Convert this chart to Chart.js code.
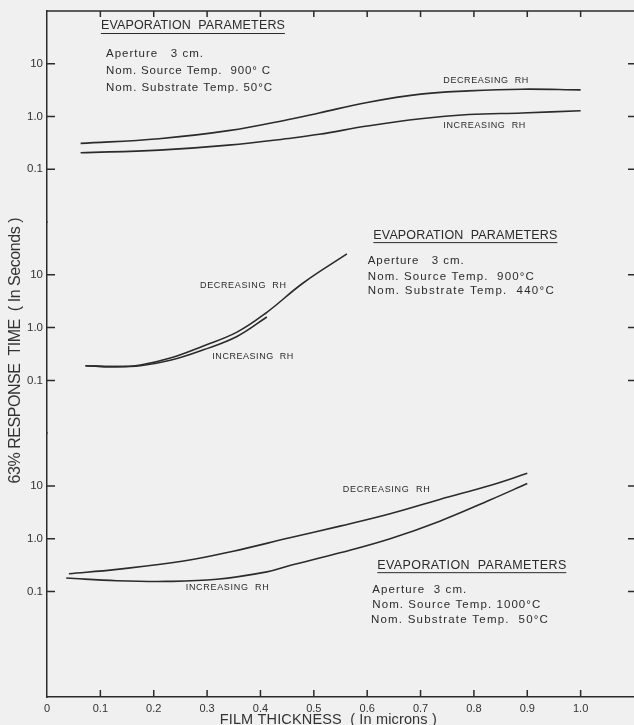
<!DOCTYPE html>
<html>
<head>
<meta charset="utf-8">
<script src="https://cdn.jsdelivr.net/npm/chart.js@4/dist/chart.umd.min.js"></script>
<style>
  html, body { margin: 0; padding: 0; background: #f0f0f0; }
  #wrap { width: 634px; height: 725px; }
  canvas { display: block; }
</style>
</head>
<body>
<div id="wrap"><canvas id="chart" width="634" height="725"></canvas></div>
<script>
// Film thickness axis (microns)
const thicknessTicks = [0, 0.1, 0.2, 0.3, 0.4, 0.5, 0.6, 0.7, 0.8, 0.9, 1.0];
const thicknessLabels = ['0', '0.1', '0.2', '0.3', '0.4', '0.5', '0.6', '0.7', '0.8', '0.9', '1.0'];

// Response time axes (seconds, log) – same three ticks in every panel
const timeTicks = [0.1, 1, 10];
const timeLabels = ['0.1', '1.0', '10'];

// Run A: source 900 °C, substrate 50 °C
const runADecX = [0.063, 0.21, 0.34, 0.46, 0.51, 0.60, 0.70, 0.79, 0.89, 1.0];
const runADecY = [0.31, 0.38, 0.54, 0.91, 1.17, 1.85, 2.66, 3.06, 3.30, 3.2];
const runAIncX = [0.063, 0.21, 0.34, 0.46, 0.51, 0.60, 0.70, 0.79, 0.89, 1.0];
const runAIncY = [0.206, 0.231, 0.287, 0.393, 0.46, 0.66, 0.91, 1.09, 1.17, 1.29];

// Run B: source 900 °C, substrate 440 °C
const runBDecX = [0.072, 0.125, 0.175, 0.231, 0.293, 0.356, 0.412, 0.48, 0.562];
const runBDecY = [0.19, 0.182, 0.196, 0.265, 0.45, 0.82, 1.95, 7.0, 24.9];
const runBIncX = [0.072, 0.125, 0.175, 0.231, 0.293, 0.356, 0.412];
const runBIncY = [0.19, 0.182, 0.19, 0.24, 0.38, 0.68, 1.59];

// Run C: source 1000 °C, substrate 50 °C
const runCDecX = [0.041, 0.131, 0.256, 0.349, 0.455, 0.549, 0.643, 0.736, 0.830, 0.90];
const runCDecY = [0.217, 0.262, 0.377, 0.58, 1.04, 1.73, 2.97, 5.55, 10.2, 17.3];
const runCIncX = [0.036, 0.131, 0.225, 0.318, 0.412, 0.455, 0.549, 0.643, 0.736, 0.830, 0.90];
const runCIncY = [0.18, 0.16, 0.155, 0.17, 0.235, 0.31, 0.54, 1.0, 2.15, 5.4, 11.1];

const FONT = '"Liberation Sans", Arial, sans-serif';
const INK = '#2b2b2b';

const pts = (xs, ys) => xs.map((x, i) => ({ x, y: ys[i] }));

function curve(xs, ys, axis) {
  return {
    data: pts(xs, ys),
    yAxisID: axis,
    borderColor: INK,
    borderWidth: 1.6,
    pointRadius: 0,
    fill: false,
    tension: 0.4
  };
}

function timeAxis(min, weight) {
  return {
    type: 'logarithmic',
    position: 'left',
    stack: 'panels',
    stackWeight: weight,
    min: min,
    max: 100,
    afterBuildTicks: s => { s.ticks = timeTicks.map(v => ({ value: v })); },
    afterFit: s => { s.width = 47; },
    ticks: {
      autoSkip: false,
      padding: 4,
      color: '#333',
      font: { family: FONT, size: 11.5 },
      callback: (v, i) => timeLabels[i]
    },
    grid: { display: false, drawTicks: false },
    border: { display: true, color: INK, width: 1.5 }
  };
}

// Text notes placed in data coordinates of each panel (left edge, vertical centre)
const notes = [
  { axis: 'y1', x: 0.101, y: 51.9, text: 'EVAPORATION  PARAMETERS', size: 12.5, width: 184, underline: true },
  { axis: 'y1', x: 0.1106, y: 15.3, text: 'Aperture   3 cm.', size: 11.5, width: 97 },
  { axis: 'y1', x: 0.1106, y: 7.28, text: 'Nom. Source Temp.  900° C', size: 11.5, width: 164 },
  { axis: 'y1', x: 0.1106, y: 3.57, text: 'Nom. Substrate Temp. 50°C', size: 11.5, width: 166 },
  { axis: 'y1', x: 0.7427, y: 4.77, text: 'DECREASING  RH', size: 9, width: 85 },
  { axis: 'y1', x: 0.7427, y: 0.69, text: 'INCREASING  RH', size: 9, width: 82 },

  { axis: 'y2', x: 0.2867, y: 6.39, text: 'DECREASING  RH', size: 9, width: 86 },
  { axis: 'y2', x: 0.3098, y: 0.288, text: 'INCREASING  RH', size: 9, width: 81 },
  { axis: 'y2', x: 0.6115, y: 56.6, text: 'EVAPORATION  PARAMETERS', size: 12.5, width: 184, underline: true },
  { axis: 'y2', x: 0.601, y: 18.2, text: 'Aperture   3 cm.', size: 11.5, width: 96 },
  { axis: 'y2', x: 0.601, y: 9.34, text: 'Nom. Source Temp.  900°C', size: 11.5, width: 166 },
  { axis: 'y2', x: 0.601, y: 4.92, text: 'Nom. Substrate Temp.  440°C', size: 11.5, width: 186 },

  { axis: 'y3', x: 0.5542, y: 8.67, text: 'DECREASING  RH', size: 9, width: 87 },
  { axis: 'y3', x: 0.2599, y: 0.1205, text: 'INCREASING  RH', size: 9, width: 83 },
  { axis: 'y3', x: 0.619, y: 0.315, text: 'EVAPORATION  PARAMETERS', size: 12.5, width: 189, underline: true },
  { axis: 'y3', x: 0.6096, y: 0.1057, text: 'Aperture  3 cm.', size: 11.5, width: 94 },
  { axis: 'y3', x: 0.6096, y: 0.0549, text: 'Nom. Source Temp. 1000°C', size: 11.5, width: 168 },
  { axis: 'y3', x: 0.607, y: 0.0286, text: 'Nom. Substrate Temp.  50°C', size: 11.5, width: 177 }
];

// Draw a line of text stretched by letter spacing to a given width
function fitText(ctx, text, x, y, size, width, align) {
  ctx.font = size + 'px ' + FONT;
  ctx.textBaseline = 'middle';
  ctx.textAlign = 'left';
  const hasLS = 'letterSpacing' in ctx;
  if (hasLS) ctx.letterSpacing = '0px';
  const w = ctx.measureText(text).width;
  const n = Array.from(text).length;
  const x0 = align === 'center' ? x - width / 2 : x;
  if (hasLS && n > 1) {
    ctx.letterSpacing = ((width - w) / (n - 1)) + 'px';
    ctx.fillText(text, x0, y);
    ctx.letterSpacing = '0px';
  } else {
    ctx.save();
    ctx.translate(x0, y);
    ctx.scale(width / w, 1);
    ctx.fillText(text, 0, 0);
    ctx.restore();
  }
}

const frame = {
  id: 'frame',
  afterDraw(chart) {
    const ctx = chart.ctx;
    const { left, right, top, bottom } = chart.chartArea;
    const xs = chart.scales.x;
    ctx.save();
    ctx.strokeStyle = INK;
    ctx.lineWidth = 1.5;
    ctx.beginPath();
    // top frame line
    ctx.moveTo(left, top);
    ctx.lineTo(right, top);
    // thickness ticks, pointing inward from bottom and top
    thicknessTicks.forEach(v => {
      if (v === 0) return;
      const px = xs.getPixelForValue(v);
      ctx.moveTo(px, bottom);
      ctx.lineTo(px, bottom - 7);
      ctx.moveTo(px, top);
      ctx.lineTo(px, top + 6);
    });
    // response-time ticks on both sides of every panel
    ['y1', 'y2', 'y3'].forEach(id => {
      const s = chart.scales[id];
      timeTicks.forEach(v => {
        const py = s.getPixelForValue(v);
        ctx.moveTo(left, py);
        ctx.lineTo(left + 8, py);
        ctx.moveTo(right - 6, py);
        ctx.lineTo(right, py);
      });
    });
    ctx.stroke();

    // notes
    ctx.fillStyle = INK;
    ctx.lineWidth = 1;
    notes.forEach(n => {
      const px = xs.getPixelForValue(n.x);
      const py = chart.scales[n.axis].getPixelForValue(n.y);
      fitText(ctx, n.text, px, py, n.size, n.width, 'left');
      if (n.underline) {
        ctx.beginPath();
        ctx.moveTo(px, py + 7.5);
        ctx.lineTo(px + n.width, py + 7.5);
        ctx.stroke();
      }
    });

    // axis titles
    ctx.fillStyle = '#333';
    fitText(ctx, 'FILM THICKNESS  ( In microns )', xs.getPixelForValue(0.527), 719.5, 14.5, 217, 'center');
    ctx.save();
    ctx.translate(15.5, 350.5);
    ctx.rotate(-Math.PI / 2);
    fitText(ctx, '63% RESPONSE  TIME  ( In Seconds )', 0, 0, 16, 266, 'center');
    ctx.restore();
    ctx.restore();
  }
};

new Chart(document.getElementById('chart'), {
  type: 'line',
  data: {
    datasets: [
      curve(runADecX, runADecY, 'y1'),
      curve(runAIncX, runAIncY, 'y1'),
      curve(runBDecX, runBDecY, 'y2'),
      curve(runBIncX, runBIncY, 'y2'),
      curve(runCDecX, runCDecY, 'y3'),
      curve(runCIncX, runCIncY, 'y3')
    ]
  },
  options: {
    responsive: false,
    devicePixelRatio: 1,
    animation: false,
    events: [],
    layout: { padding: { top: 11, right: 0, bottom: 0, left: 0 } },
    plugins: { legend: { display: false }, tooltip: { enabled: false } },
    scales: {
      x: {
        type: 'linear',
        position: 'bottom',
        min: 0,
        max: 1.1,
        afterBuildTicks: s => { s.ticks = thicknessTicks.map(v => ({ value: v })); },
        afterFit: s => { s.height = 28; },
        ticks: {
          autoSkip: false,
          maxRotation: 0,
          padding: 5,
          color: '#333',
          font: { family: FONT, size: 11 },
          callback: (v, i) => thicknessLabels[i]
        },
        grid: { display: false, drawTicks: false },
        border: { display: true, color: INK, width: 1.5 }
      },
      y3: timeAxis(0.001, 5),
      y2: timeAxis(0.01, 4),
      y1: timeAxis(0.01, 4)
    }
  },
  plugins: [frame]
});
</script>
</body>
</html>
